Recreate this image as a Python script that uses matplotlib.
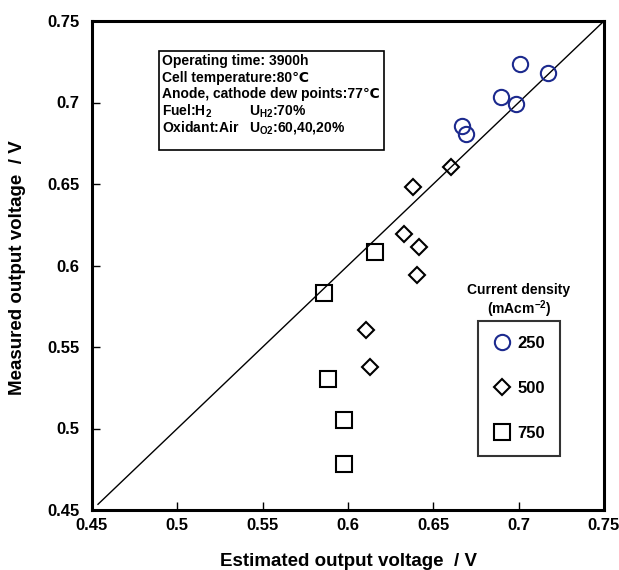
import matplotlib
matplotlib.use("Agg")
import matplotlib.pyplot as plt

# ── data ─────────────────────────────────────────
x_250 = [0.7008, 0.7172, 0.6896, 0.6984, 0.6668, 0.6691]
y_250 = [0.7236, 0.7181, 0.7034, 0.6991, 0.6856, 0.6807]

x_500 = [0.6602, 0.6383, 0.6328, 0.6418, 0.6406, 0.6104, 0.6131]
y_500 = [0.6606, 0.6484, 0.6193, 0.6112, 0.5940, 0.5602, 0.5379]

x_750 = [0.6156, 0.5861, 0.5881, 0.5978, 0.5977]
y_750 = [0.6083, 0.5833, 0.5302, 0.5050, 0.4780]

ticks = [0.45, 0.5, 0.55, 0.6, 0.65, 0.7, 0.75]
tick_labels = ["0.45", "0.5", "0.55", "0.6", "0.65", "0.7", "0.75"]
diag = [0.4535, 0.749]

FONT = ["Liberation Sans", "DejaVu Sans"]
plt.rcParams["font.family"] = FONT
plt.rcParams["font.weight"] = "bold"
plt.rcParams["mathtext.fontset"] = "custom"
plt.rcParams["mathtext.rm"] = "Liberation Sans:bold"
plt.rcParams["mathtext.default"] = "regular"

W, H = 619, 570
fig = plt.figure(figsize=(W / 100, H / 100), dpi=100)
ax = fig.add_axes([92 / W, 1 - 510 / H, 512 / W, 489 / H])

ax.plot(diag, diag, color="black", lw=1.0)

blue = "#1c2a8e"
ax.plot(x_250, y_250, "o", ms=11, mfc="none", mec=blue, mew=1.5, label="250")
ax.plot(x_500, y_500, "D", ms=8, mfc="none", mec="black", mew=1.5, label="500")
ax.plot(x_750, y_750, "s", ms=11.5, mfc="none", mec="black", mew=1.5, label="750")

ax.set_xlim(0.45, 0.75)
ax.set_ylim(0.45, 0.75)
ax.set_xticks(ticks)
ax.set_yticks(ticks)
ax.set_xticklabels(tick_labels)
ax.set_yticklabels(tick_labels)
ax.tick_params(direction="in", length=6, width=1, labelsize=12, pad=6)
ax.tick_params(axis="y", pad=9)
for s in ax.spines.values():
    s.set_linewidth(2.2)

fig.text(18 / W, 1 - 268 / H, "Measured output voltage  / V", rotation=90,
         ha="center", va="center", fontsize=13.5)
fig.text(348 / W, 1 - 562 / H, "Estimated output voltage  / V",
         ha="center", va="center", fontsize=13.5)

# ── conditions box ───────────────────────────────
box = plt.Rectangle((159 / W, 1 - 150 / H), 225 / W, 99 / H,
                    transform=fig.transFigure, fill=False, lw=1.2,
                    edgecolor="black")
fig.add_artist(box)
lines = [
    "Operating time: 3900h",
    "Cell temperature:80\u2103",
    "Anode, cathode dew points:77\u2103",
    r"Fuel:H$_2$          U$_{H2}$:70%",
    r"Oxidant:Air   U$_{O2}$:60,40,20%",
]
for i, t in enumerate(lines):
    fig.text(162 / W, 1 - (61 + i * 16.7) / H, t, ha="left", va="center",
             fontsize=10)

# ── legend ───────────────────────────────────────
fig.text(519 / W, 1 - 290 / H, "Current density", ha="center", va="center",
         fontsize=10)
fig.text(519 / W, 1 - 309 / H, r"(mAcm$^{-2}$)", ha="center", va="center",
         fontsize=10)
leg = ax.legend(loc="upper left", bbox_to_anchor=(478 / W, 1 - 321 / H),
                bbox_transform=fig.transFigure, borderaxespad=0,
                frameon=True, fancybox=False, edgecolor="black",
                handlelength=1.1, handletextpad=0.35, labelspacing=1.8,
                borderpad=0.9, fontsize=12)
leg.get_frame().set_linewidth(1.5)

fig.savefig("out.png", dpi=100)
